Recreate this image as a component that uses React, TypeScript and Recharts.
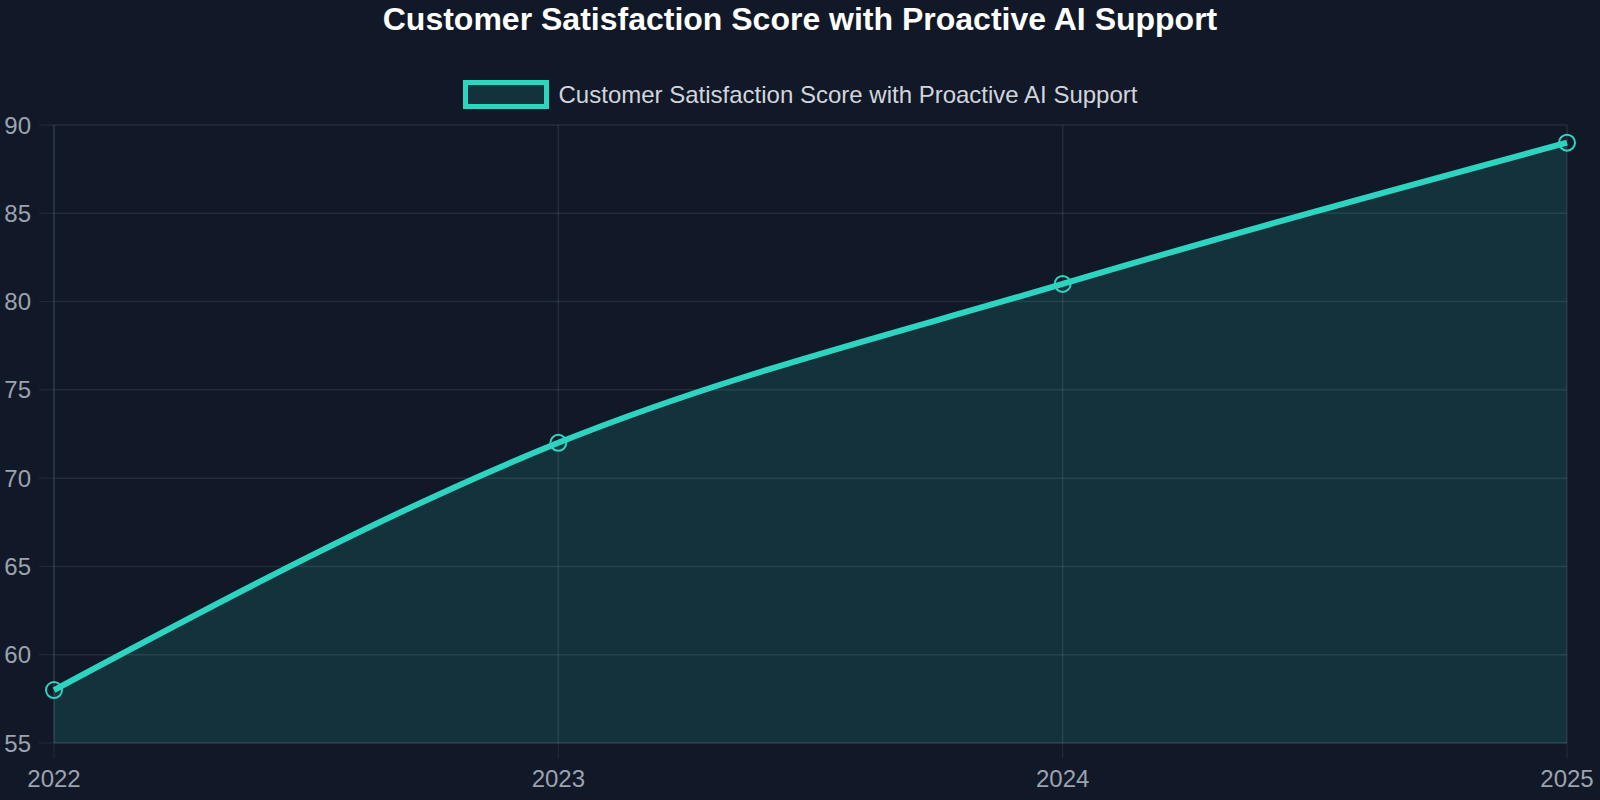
import { AreaChart, Area, XAxis, YAxis, CartesianGrid } from "recharts"

const title = "Customer Satisfaction Score with Proactive AI Support"
const years = ["2022", "2023", "2024", "2025"]
const scores = [58, 72, 81, 89]
const yTicks = [55, 60, 65, 70, 75, 80, 85, 90]

const data = years.map((year, i) => ({ year, score: scores[i] }))

const BG = "#111827"
const TEAL = "#2dd4bf"
const GRID = "rgba(148,163,184,0.15)"

export default function App() {
  return (
    <div
      style={{
        position: "fixed",
        left: 0,
        top: 0,
        width: 1600,
        height: 800,
        background: BG,
        fontFamily: "'Liberation Sans', Arial, sans-serif",
      }}
    >
      <div
        style={{
          position: "absolute",
          left: 0,
          width: 1600,
          top: 0,
          height: 38,
          lineHeight: "38px",
          textAlign: "center",
          color: "#ffffff",
          fontWeight: "bold",
          fontSize: 32,
        }}
      >
        {title}
      </div>
      <div
        style={{
          position: "absolute",
          left: 0,
          width: 1600,
          top: 80,
          height: 29,
          display: "flex",
          justifyContent: "center",
          alignItems: "center",
          color: "#d1d5db",
          fontSize: 24,
        }}
      >
        <span
          style={{
            display: "inline-block",
            boxSizing: "border-box",
            width: 86,
            height: 29,
            border: `5px solid ${TEAL}`,
            background: "rgba(45,212,191,0.14)",
            marginRight: 10,
          }}
        />
        <span>{title}</span>
      </div>
      <AreaChart
        width={1600}
        height={800}
        data={data}
        margin={{ top: 125, right: 33, bottom: 0, left: 0 }}
      >
        <CartesianGrid stroke={GRID} strokeWidth={1.5} />
        <XAxis
          dataKey="year"
          height={57}
          tickSize={15}
          tickMargin={12}
          stroke={GRID}
          tick={{ fill: "#9ca3af", fontSize: 24 }}
          tickLine={{ stroke: GRID }}
          axisLine={{ stroke: GRID }}
        />
        <YAxis
          width={54}
          domain={[55, 90]}
          ticks={yTicks}
          tickSize={15}
          tickMargin={8}
          interval={0}
          tick={{ fill: "#9ca3af", fontSize: 24 }}
          tickLine={{ stroke: GRID }}
          axisLine={{ stroke: GRID }}
        />
        <Area
          type="monotone"
          dataKey="score"
          stroke={TEAL}
          strokeWidth={6}
          fill={TEAL}
          fillOpacity={0.14}
          dot={{ r: 8, stroke: TEAL, strokeWidth: 2, fill: "rgba(45,212,191,0.1)" }}
          activeDot={false}
          isAnimationActive={false}
        />
      </AreaChart>
    </div>
  )
}
